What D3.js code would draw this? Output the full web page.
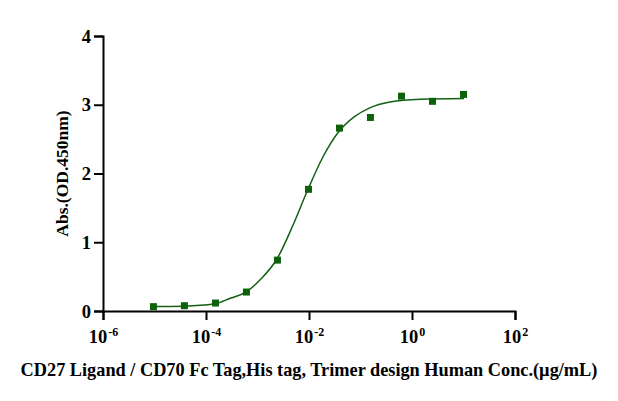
<!DOCTYPE html>
<html>
<head>
<meta charset="utf-8">
<script src="https://cdn.jsdelivr.net/npm/d3@7"></script>
<style>
  body { margin: 0; background: #fff; }
  text { font-family: "Liberation Serif", "Times New Roman", serif; font-weight: bold; fill: #000; }
</style>
</head>
<body>
<div id="chart"></div>
<script>
// measured points: concentration (ug/mL) and absorbance
let conc = [9.54e-6, 3.81e-5, 1.53e-4, 6.10e-4, 2.44e-3, 9.77e-3, 0.0391, 0.156, 0.625, 2.5, 10]
let absValues = [0.063, 0.077, 0.116, 0.276, 0.74, 1.77, 2.66, 2.815, 3.125, 3.05, 3.15]

// fitted curve: log10(conc), absorbance
let curveLogX = [-5.03, -4.43, -3.83, -3.53, -3.22, -2.92, -2.62, -2.31, -2.02, -1.73, -1.42, -1.11, -0.82, -0.43, 0.16, 1.01]
let curveY = [0.065, 0.07, 0.105, 0.185, 0.278, 0.475, 0.76, 1.25, 1.77, 2.24, 2.61, 2.83, 2.955, 3.04, 3.08, 3.09]

let xTickExps = [-6, -4, -2, 0, 2]
let yTicks = [0, 1, 2, 3, 4]

let xTitle = "CD27 Ligand / CD70 Fc Tag,His tag, Trimer design Human Conc.(\u00b5g/mL)"
let yTitle = "Abs.(OD.450nm)"

let W = 618, H = 401
let margin = {top: 36, right: 103, bottom: 90, left: 103}
let width = W - margin.left - margin.right,
    height = H - margin.top - margin.bottom

let green = "#0b620b"

let svg = d3.select("#chart").append("svg")
  .attr("width", W)
  .attr("height", H)

let g = svg.append("g")
  .attr("transform", "translate(" + margin.left + "," + margin.top + ")")

// SCALES
let xScale = d3.scaleLog().domain([1e-6, 1e2]).range([0, width])
let yScale = d3.scaleLinear().domain([0, 4]).range([height, 0])

// AXES
let xAxis = d3.axisBottom(xScale)
  .tickValues(xTickExps.map(e => Math.pow(10, e)))
  .tickSize(9)
  .tickFormat("")

let yAxis = d3.axisLeft(yScale)
  .tickValues(yTicks)
  .tickSize(9)
  .tickFormat(d3.format("d"))

let gx = g.append("g")
  .attr("class", "x axis")
  .attr("transform", "translate(0," + height + ")")
  .call(xAxis)

let gy = g.append("g")
  .attr("class", "y axis")
  .call(yAxis)

g.selectAll(".axis path, .axis line")
  .attr("stroke", "#000")
  .attr("stroke-width", 2)

gy.selectAll("text")
  .attr("font-size", 18.5)
  .attr("x", -12)
  .attr("dy", "0.33em")

// x tick labels with superscript exponents
gx.selectAll(".tick").each(function(d) {
  let e = Math.round(Math.log10(d))
  let t = d3.select(this).append("text")
    .attr("y", 32)
    .attr("text-anchor", "middle")
    .attr("font-size", 18.5)
  t.append("tspan").text("10")
  t.append("tspan")
    .attr("font-size", 12)
    .attr("dy", -7)
    .attr("dx", 1)
    .text(e < 0 ? "-" + Math.abs(e) : e)
})

// curve
let line = d3.line()
  .x(d => xScale(Math.pow(10, d[0])))
  .y(d => yScale(d[1]))
  .curve(d3.curveMonotoneX)

g.append("path")
  .datum(d3.zip(curveLogX, curveY))
  .attr("fill", "none")
  .attr("stroke", "#145f14")
  .attr("stroke-width", 1.5)
  .attr("d", line)

// points
let s = 7
g.selectAll(".pt")
  .data(d3.zip(conc, absValues))
  .enter().append("rect")
  .attr("class", "pt")
  .attr("x", d => xScale(d[0]) - s / 2)
  .attr("y", d => yScale(d[1]) - s / 2)
  .attr("width", s)
  .attr("height", s)
  .attr("fill", green)

// titles
svg.append("text")
  .attr("x", W / 2)
  .attr("y", 376)
  .attr("text-anchor", "middle")
  .attr("font-size", 18.3)
  .text(xTitle)

svg.append("text")
  .attr("transform", "translate(68," + (margin.top + height / 2) + ") rotate(-90)")
  .attr("text-anchor", "middle")
  .attr("font-size", 17.5)
  .text(yTitle)
</script>
</body>
</html>
